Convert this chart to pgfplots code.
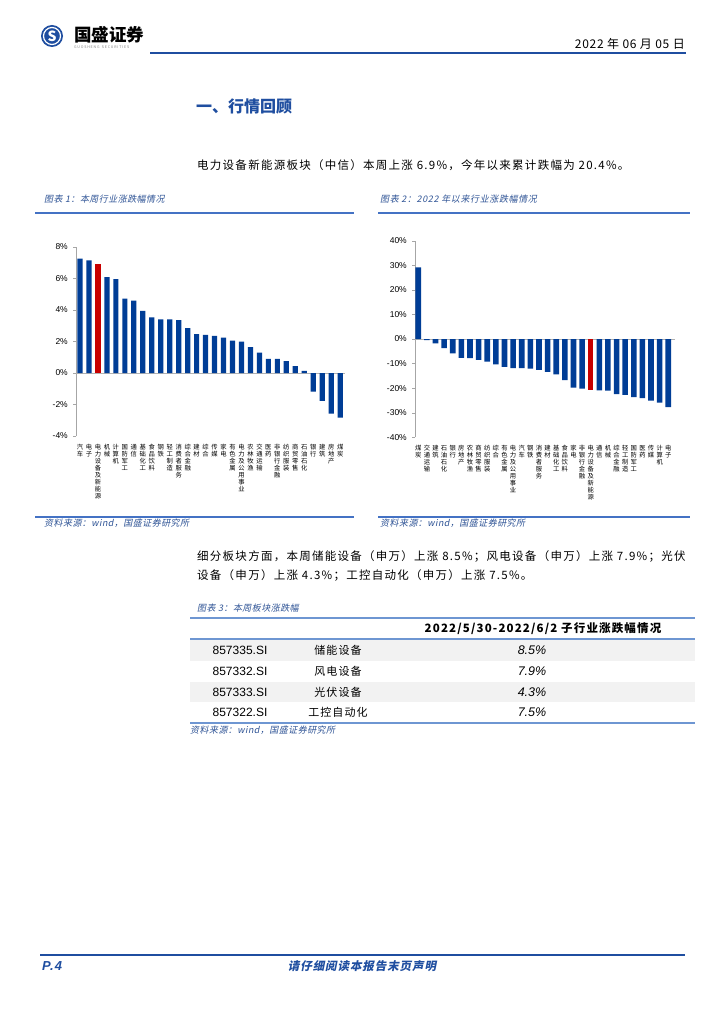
\documentclass[border=0pt]{standalone}
\usepackage{pgfplots}
\pgfplotsset{compat=1.18}
\usepackage{fontspec}
\setmainfont{Noto Sans CJK SC}
\newfontfamily\slfont{Noto Sans CJK SC}[FakeSlant=0.2]
\newfontfamily\lat{Liberation Sans}
\definecolor{barblue}{RGB}{0,61,150}
\definecolor{barred}{RGB}{200,0,0}
\definecolor{hdrblue}{RGB}{31,78,160}
\definecolor{capblue}{RGB}{47,84,150}
\definecolor{rulblue}{RGB}{68,114,196}
\definecolor{tabblue}{RGB}{110,150,210}
\definecolor{rowgray}{RGB}{242,242,242}
\newcommand{\fs}[1]{\fontsize{#1}{#1}\selectfont}
\newcommand{\ls}[1]{\addfontfeatures{LetterSpace=#1}}

\pgfplotsset{
  gsbars/.style={
    scale only axis, anchor=south west,
    axis y line=left, axis x line=bottom,
    x axis line style={draw=none},
    xtick style={draw=none},
    y axis line style={-, draw=gray!70},
    ytick style={draw=gray!70},
    tick align=outside, major tick length=3pt,
    ybar, bar shift=0pt,
    xtick={0,...,29},
    /pgf/number format/assume math mode=true,
    yticklabel={\pgfmathprintnumber{\tick}\%},
    yticklabel style={font=\lat\fs{8.5}, inner sep=1pt, xshift=-4pt},
    xticklabel style={font=\fontsize{6.3}{7}\selectfont, align=center, anchor=north, inner sep=0pt, yshift=-5pt},
    extra y ticks={0}, extra y tick labels={},
    extra y tick style={grid=major, major grid style={draw=gray!60}, tick style={draw=none}},
  }
}

\begin{document}
\begin{tikzpicture}[x=1pt,y=1pt]
\fill[white] (0,0) rectangle (724,-1024);

% header
\fill[hdrblue] (52,-36) circle (11);
\draw[white, line width=1.2] (52,-36) circle (8.5);
\node[white, font=\bfseries\fs{14}] at (52,-36) {S};
\node[anchor=west, inner sep=0, font=\bfseries\fs{17.5}] at (74,-35) {国盛证券};
\node[anchor=west, inner sep=0, font=\fs{3.6}, text=gray] at (74,-47) {G U O S H E N G \ \ S E C U R I T I E S};
\node[anchor=east, inner sep=0, font=\fs{12}\ls{6}] at (685,-44) {2022 年 06 月 05 日};
\draw[hdrblue, line width=2] (150,-53) -- (686,-53);

\node[anchor=west, inner sep=0, font=\bfseries\fs{16}, text=hdrblue] at (196,-107) {一、行情回顾};
\node[anchor=west, inner sep=0, font=\fs{11.5}\ls{11}] at (197,-165) {电力设备新能源板块（中信）本周上涨 6.9\%，今年以来累计跌幅为 20.4\%。};

% captions
\node[anchor=west, inner sep=0, font=\slfont\fs{9}\ls{5}, text=capblue] at (44,-199) {图表 1：本周行业涨跌幅情况};
\node[anchor=west, inner sep=0, font=\slfont\fs{9}\ls{7}, text=capblue] at (380,-199) {图表 2：2022 年以来行业涨跌幅情况};
\draw[rulblue, line width=1.6] (35,-213) -- (354,-213);
\draw[rulblue, line width=1.6] (378,-213) -- (690,-213);
\draw[rulblue, line width=1.6] (35,-517) -- (354,-517);
\draw[rulblue, line width=1.6] (378,-517) -- (690,-517);
\node[anchor=west, inner sep=0, font=\slfont\fs{9}\ls{5}, text=capblue] at (44,-523) {资料来源：wind，国盛证券研究所};
\node[anchor=west, inner sep=0, font=\slfont\fs{9}\ls{5}, text=capblue] at (380,-523) {资料来源：wind，国盛证券研究所};

% chart 1
\begin{axis}[gsbars,
  at={(76pt,-436pt)}, width=269pt, height=189pt,
  xmin=-0.446, xmax=29.54, ymin=-4, ymax=8,
  ytick={-4,-2,...,8}, bar width=5.2pt,
  xticklabels={{汽\\车},{电\\子},{电\\力\\设\\备\\及\\新\\能\\源},{机\\械},{计\\算\\机},{国\\防\\军\\工},{通\\信},{基\\础\\化\\工},{食\\品\\饮\\料},{钢\\铁},{轻\\工\\制\\造},{消\\费\\者\\服\\务},{综\\合\\金\\融},{建\\材},{综\\合},{传\\媒},{家\\电},{有\\色\\金\\属},{电\\力\\及\\公\\用\\事\\业},{农\\林\\牧\\渔},{交\\通\\运\\输},{医\\药},{非\\银\\行\\金\\融},{纺\\织\\服\\装},{商\\贸\\零\\售},{石\\油\\石\\化},{银\\行},{建\\筑},{房\\地\\产},{煤\\炭}},
]
\addplot[fill=barblue, draw=none] coordinates {
(0,7.26)(1,7.15)(3,6.08)(4,5.96)(5,4.72)(6,4.60)(7,3.94)(8,3.53)(9,3.40)
(10,3.40)(11,3.36)(12,2.85)(13,2.47)(14,2.42)(15,2.36)(16,2.25)(17,2.06)(18,2.00)(19,1.65)
(20,1.29)(21,0.90)(22,0.90)(23,0.75)(24,0.44)(25,0.13)(26,-1.19)(27,-1.77)(28,-2.58)(29,-2.83)};
\addplot[fill=barred, draw=none] coordinates {(2,6.90)};
\end{axis}

% chart 2
\begin{axis}[gsbars,
  at={(415pt,-437.3pt)}, width=260pt, height=196.6pt,
  xmin=-0.38, xmax=29.78, ymin=-40, ymax=40,
  ytick={-40,-30,...,40}, bar width=5.6pt,
  xticklabels={{煤\\炭},{交\\通\\运\\输},{建\\筑},{石\\油\\石\\化},{银\\行},{房\\地\\产},{农\\林\\牧\\渔},{商\\贸\\零\\售},{纺\\织\\服\\装},{综\\合},{有\\色\\金\\属},{电\\力\\及\\公\\用\\事\\业},{汽\\车},{钢\\铁},{消\\费\\者\\服\\务},{建\\材},{基\\础\\化\\工},{食\\品\\饮\\料},{家\\电},{非\\银\\行\\金\\融},{电\\力\\设\\备\\及\\新\\能\\源},{通\\信},{机\\械},{综\\合\\金\\融},{轻\\工\\制\\造},{国\\防\\军\\工},{医\\药},{传\\媒},{计\\算\\机},{电\\子}},
]
\addplot[fill=barblue, draw=none] coordinates {
(0,29.1)(1,-0.5)(2,-1.8)(3,-3.7)(4,-5.8)(5,-7.7)(6,-7.8)(7,-8.5)(8,-9.2)(9,-10.3)
(10,-11.3)(11,-11.8)(12,-11.8)(13,-12.1)(14,-12.6)(15,-13.4)(16,-14.4)(17,-16.7)(18,-19.8)(19,-20.2)
(21,-20.9)(22,-21.0)(23,-22.4)(24,-22.7)(25,-23.7)(26,-24.1)(27,-25.1)(28,-25.9)(29,-27.7)};
\addplot[fill=barred, draw=none] coordinates {(20,-20.6)};
\end{axis}

% paragraph 2
\node[anchor=west, inner sep=0, font=\fs{11.5}\ls{11}] at (197,-556) {细分板块方面，本周储能设备（申万）上涨 8.5\%；风电设备（申万）上涨 7.9\%；光伏};
\node[anchor=west, inner sep=0, font=\fs{11.5}\ls{11}] at (197,-575) {设备（申万）上涨 4.3\%；工控自动化（申万）上涨 7.5\%。};

% table
\node[anchor=west, inner sep=0, font=\slfont\fs{9}\ls{5}, text=capblue] at (197,-608) {图表 3：本周板块涨跌幅};
\fill[rowgray] (190,-639) rectangle (695,-661);
\fill[rowgray] (190,-682) rectangle (695,-702);
\draw[tabblue, line width=1.4] (190,-618) -- (695,-618);
\draw[tabblue, line width=1.4] (190,-639) -- (695,-639);
\draw[tabblue, line width=1.4] (190,-723) -- (695,-723);
\node[font=\bfseries\fs{11.5}\ls{10}] at (543,-629) {2022/5/30-2022/6/2 子行业涨跌幅情况};
\foreach \y/\c/\n/\v in {650/857335.SI/储能设备/8.5,671.5/857332.SI/风电设备/7.9,692/857333.SI/光伏设备/4.3,712.5/857322.SI/工控自动化/7.5}{
  \node[font=\lat\fs{12}] at (240,-\y) {\c};
  \node[font=\fs{11}\ls{10}] at (338,-\y) {\n};
  \node[font=\lat\itshape\fs{12.5}] at (532,-\y) {\v\%};
}
\node[anchor=west, inner sep=0, font=\slfont\fs{9}\ls{5}, text=capblue] at (190,-730) {资料来源：wind，国盛证券研究所};

% footer
\draw[hdrblue, line width=2] (40,-955) -- (685,-955);
\node[anchor=west, inner sep=0, font=\lat\bfseries\itshape\fs{13}\ls{8}, text=hdrblue] at (42,-966) {P.4};
\node[inner sep=0, font=\slfont\bfseries\fs{11.5}\ls{8}, text=hdrblue] at (362,-966) {请仔细阅读本报告末页声明};
\end{tikzpicture}
\end{document}
